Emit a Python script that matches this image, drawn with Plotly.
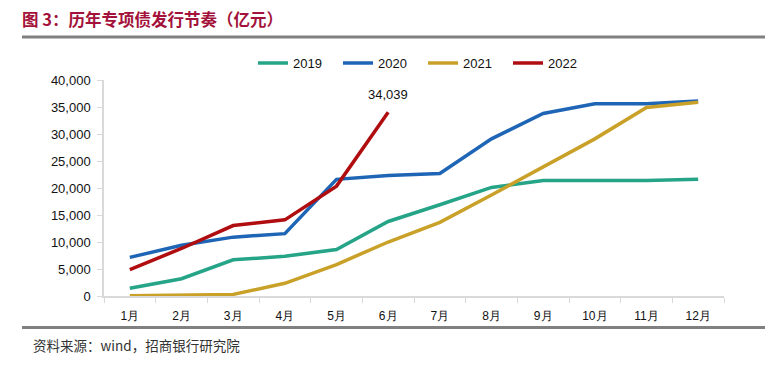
import plotly.graph_objects as go

months = ["1月", "2月", "3月", "4月", "5月", "6月", "7月", "8月", "9月", "10月", "11月", "12月"]
y2019 = [1450, 3200, 6700, 7350, 8600, 13800, 16900, 20100, 21400, 21400, 21400, 21600]
y2020 = [7150, 9400, 10900, 11550, 21600, 22300, 22700, 29100, 33800, 35600, 35600, 36100]
y2021 = [50, 100, 300, 2350, 5830, 10000, 13650, 18700, 23900, 29100, 34900, 35900]
y2022 = [4900, 8800, 13050, 14100, 20350, 34039]
yticks = [0, 5000, 10000, 15000, 20000, 25000, 30000, 35000, 40000]

colors = {"2019": "#25A487", "2020": "#1E65B6", "2021": "#C9A028", "2022": "#B00D10"}

fig = go.Figure()
for name, vals in [("2019", y2019), ("2020", y2020), ("2021", y2021), ("2022", y2022)]:
    fig.add_trace(go.Scatter(x=months[:len(vals)], y=vals, mode="lines", name=name,
                             line=dict(color=colors[name], width=3.5)))

fig.add_annotation(x=months[5], y=y2022[5], text=f"{y2022[5]:,}", showarrow=False,
                   yshift=18, font=dict(family="Liberation Sans, Arial", size=13, color="#111"))

OFF = 8  # page body margin
L, R, T, B = 104 - OFF, 724 - OFF, 80 - OFF, 296.5 - OFF
W, H = 773 - OFF, 371 - OFF
pw, ph = R - L, B - T
def px(x): return (x - OFF - L) / pw
def py(y): return (B - (y - OFF)) / ph

fig.add_shape(type="line", xref="paper", yref="paper", x0=px(22), x1=px(773), y0=py(37), y1=py(37),
              line=dict(color="#808080", width=3))
fig.add_shape(type="line", xref="paper", yref="paper", x0=px(22), x1=px(773), y0=py(328), y1=py(328),
              line=dict(color="#808080", width=3))
fig.add_annotation(xref="paper", yref="paper", x=px(21), y=py(19), xanchor="left", yanchor="middle",
                   text="<b>图 3：历年专项债发行节奏（亿元）</b>", showarrow=False, borderpad=0,
                   font=dict(family="Noto Sans CJK SC", size=16.5, color="#A3123A"))
fig.add_annotation(xref="paper", yref="paper", x=px(31), y=py(346), xanchor="left", yanchor="middle",
                   text="资料来源：wind，招商银行研究院", showarrow=False,
                   font=dict(family="Noto Sans CJK SC", size=13.5, color="#333"))

fig.update_layout(
    width=W, height=H,
    margin=dict(l=L, r=W - R, t=T, b=H - B, pad=0),
    plot_bgcolor="white", paper_bgcolor="white",
    showlegend=True,
    legend=dict(orientation="h", x=px(423), xanchor="center", y=py(63), yanchor="middle",
                font=dict(family="Liberation Sans, Arial", size=13, color="#111"),
                entrywidth=40, entrywidthmode="pixels", itemwidth=30, bgcolor="rgba(0,0,0,0)"),
    xaxis=dict(type="category", range=[-0.5, 11.5], showline=True, linecolor="#D9D9D9", linewidth=1.5,
               ticks="outside", ticklen=5, tickcolor="#D9D9D9", tickson="boundaries",
               ticklabelstandoff=8,
               showgrid=False, tickfont=dict(family="Liberation Sans, Arial", size=12, color="#111")),
    yaxis=dict(range=[0, 40000], tickvals=yticks, tickformat=",", showline=True, linecolor="#D9D9D9",
               linewidth=1.5, ticks="outside", ticklen=5, tickcolor="#D9D9D9", showgrid=False,
               ticklabelstandoff=4,
               zeroline=False, tickfont=dict(family="Liberation Sans, Arial", size=13, color="#111")),
)

fig.write_html("out.html")
